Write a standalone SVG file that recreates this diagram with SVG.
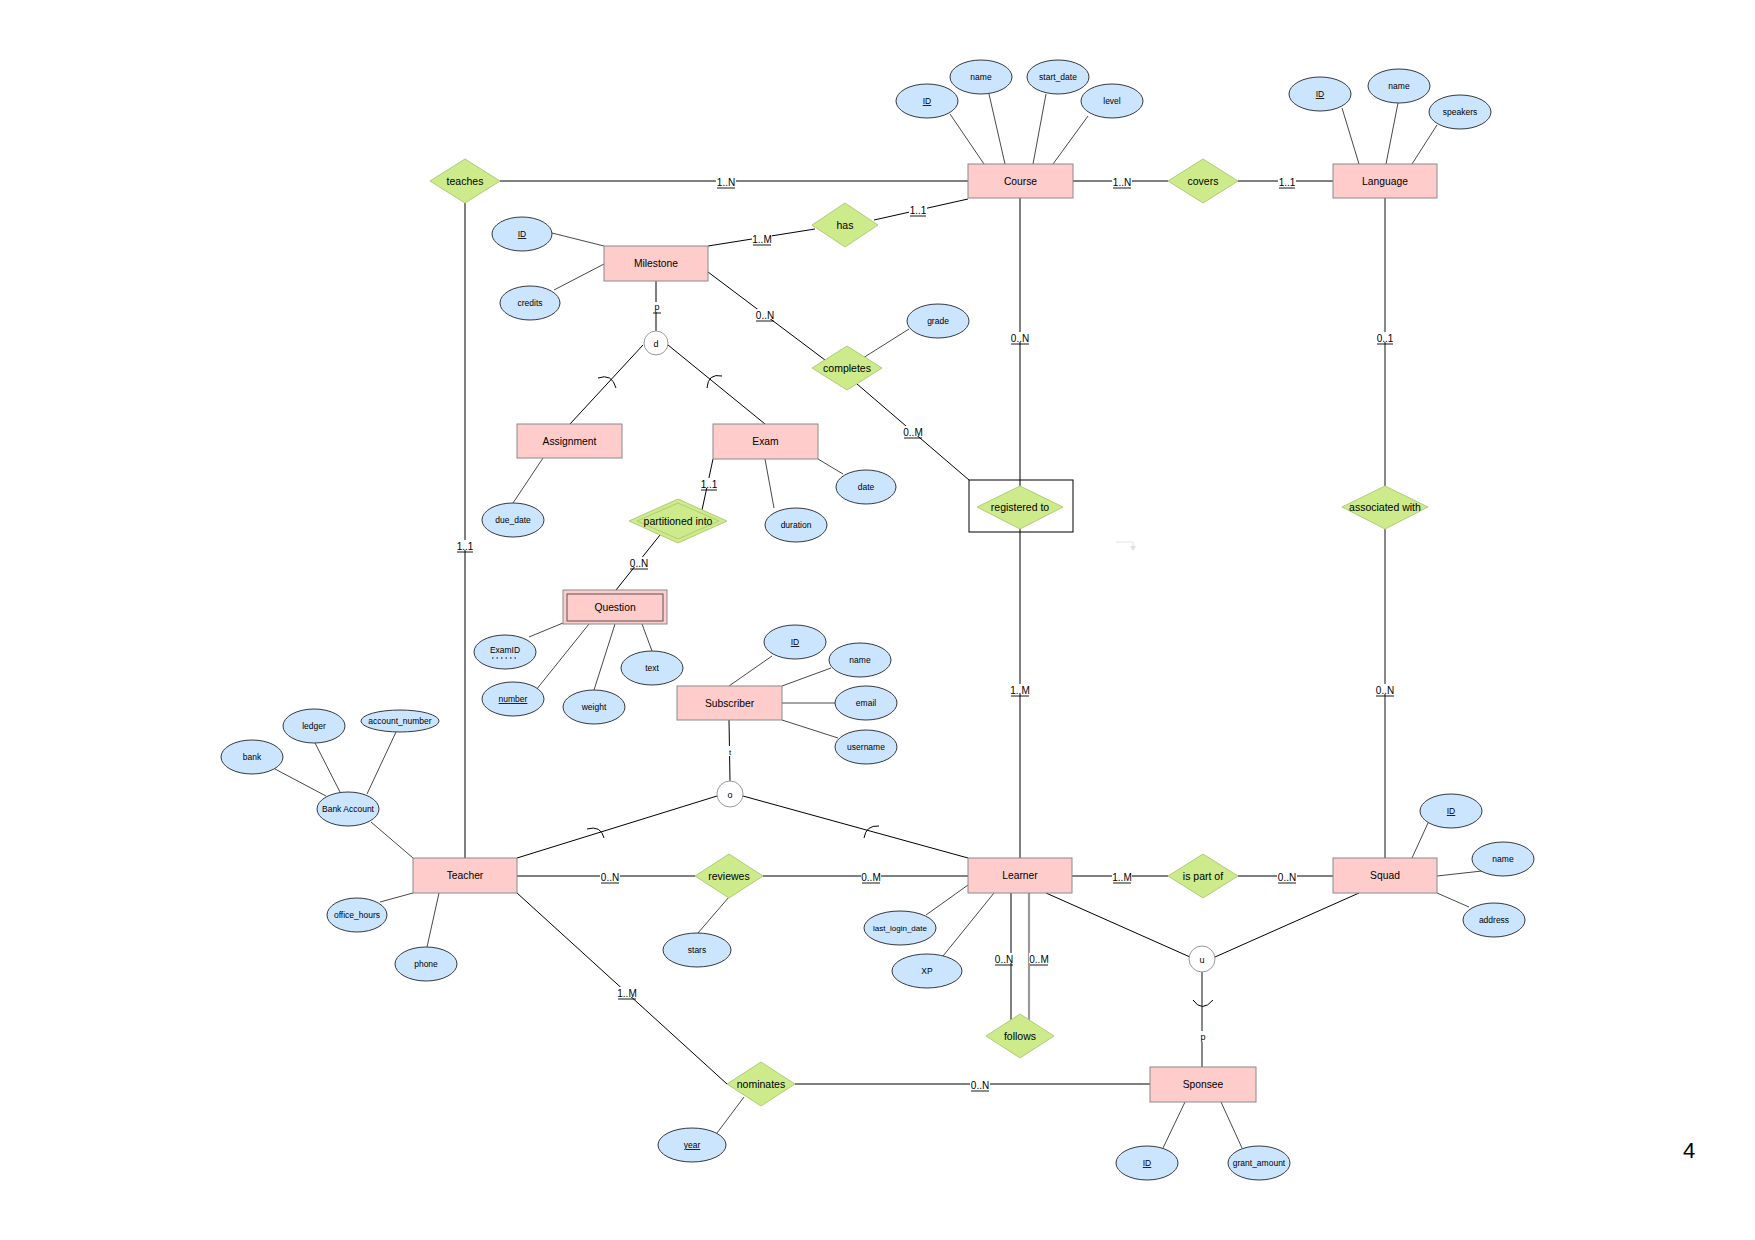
<svg xmlns="http://www.w3.org/2000/svg" width="1755" height="1240" viewBox="0 0 1755 1240">
<defs>
<style>
text{font-family:"Liberation Sans",Arial,Helvetica,sans-serif;fill:#000;text-anchor:middle}
.ent rect{fill:#FFCCCC;stroke:#8a8a8a;stroke-width:1}
.ent text{font-size:10.3px}
.attr ellipse{fill:#CCE5FF;stroke:#36393d;stroke-width:1}
.attr text{font-size:8.5px}
.rel polygon{fill:#CDEB8B;stroke:#b0cc78;stroke-width:1}
.rel text{font-size:10.5px}
.circ circle{fill:#fff;stroke:#999;stroke-width:1}
.circ text{font-size:9px}
#connectors line,#connectors path{stroke:#000;stroke-width:1;fill:none}
#connectors .a{stroke:#333;stroke-width:0.9}
#connectors .g{stroke:#555;stroke-width:1.4}
#connectors .gg{stroke:#9a9a9a;stroke-width:2.2}
.card rect{fill:#fff}
.card text{font-size:10px}
.card line{stroke:#000;stroke-width:0.9}
.u{text-decoration:underline}
</style>
</defs>
<rect width="1755" height="1240" fill="#fff"/>

<g id="connectors">
<!-- main -->
<line x1="500" y1="181" x2="968" y2="181"/>
<line x1="1073" y1="181" x2="1168" y2="181"/>
<line x1="1238" y1="181" x2="1333" y2="181"/>
<line x1="465" y1="203" x2="465" y2="858"/>
<line x1="1020" y1="198" x2="1020" y2="486"/>
<line x1="1020" y1="529" x2="1020" y2="858"/>
<line class="g" x1="1385" y1="198" x2="1385" y2="486"/>
<line class="g" x1="1385" y1="529" x2="1385" y2="858"/>
<line x1="708" y1="246" x2="815" y2="229"/>
<line x1="874" y1="220" x2="968" y2="199"/>
<line x1="708" y1="272" x2="825" y2="360"/>
<line x1="857" y1="384" x2="969" y2="480"/>
<line x1="656" y1="281" x2="656" y2="331"/>
<line x1="643" y1="345" x2="570" y2="424"/>
<line x1="668" y1="345" x2="765" y2="424"/>
<line x1="713" y1="459" x2="702" y2="510"/>
<line x1="660" y1="535" x2="616" y2="590"/>
<line x1="729" y1="720" x2="730" y2="781"/>
<line x1="717" y1="796" x2="517" y2="858"/>
<line x1="743" y1="796" x2="968" y2="858"/>
<line x1="517" y1="876" x2="695" y2="876"/>
<line x1="763" y1="876" x2="968" y2="876"/>
<line x1="1072" y1="876" x2="1168" y2="876"/>
<line x1="1238" y1="876" x2="1333" y2="876"/>
<line x1="1046" y1="893" x2="1190" y2="957"/>
<line x1="1359" y1="893" x2="1215" y2="957"/>
<line class="g" x1="1202" y1="972" x2="1202" y2="1067"/>
<line x1="517" y1="893" x2="727" y2="1084"/>
<line x1="795" y1="1084" x2="1150" y2="1084"/>
<line x1="1011" y1="893" x2="1011" y2="1020"/>
<line class="gg" x1="1029" y1="893" x2="1029" y2="1021"/>
<!-- subset arcs -->
<path d="M598,378 Q612,373 616,388"/>
<path d="M722,376 Q708,373 707,388"/>
<path d="M587,829 Q601,825 604,838"/>
<path d="M879,826 Q866,825 864,838"/>
<path d="M1193,1000 Q1202,1013 1213,1000"/>
<!-- attribute lines -->
<line class="a" x1="950" y1="114" x2="984" y2="164"/>
<line class="a" x1="989" y1="94" x2="1005" y2="164"/>
<line class="a" x1="1046" y1="94" x2="1033" y2="164"/>
<line class="a" x1="1088" y1="116" x2="1053" y2="164"/>
<line class="a" x1="1342" y1="108" x2="1359" y2="164"/>
<line class="a" x1="1398" y1="103" x2="1386" y2="164"/>
<line class="a" x1="1437" y1="125" x2="1412" y2="164"/>
<line class="a" x1="552" y1="233" x2="604" y2="246"/>
<line class="a" x1="554" y1="290" x2="604" y2="264"/>
<line class="a" x1="863" y1="358" x2="909" y2="329"/>
<line class="a" x1="543" y1="458" x2="513" y2="503"/>
<line class="a" x1="818" y1="459" x2="843" y2="474"/>
<line class="a" x1="765" y1="459" x2="774" y2="508"/>
<line class="a" x1="563" y1="623" x2="529" y2="637"/>
<line class="a" x1="589" y1="624" x2="536" y2="690"/>
<line class="a" x1="615" y1="624" x2="594" y2="690"/>
<line class="a" x1="642" y1="624" x2="652" y2="651"/>
<line class="a" x1="729" y1="686" x2="772" y2="656"/>
<line class="a" x1="782" y1="686" x2="831" y2="668"/>
<line class="a" x1="782" y1="703" x2="835" y2="703"/>
<line class="a" x1="782" y1="720" x2="838" y2="738"/>
<line class="a" x1="371" y1="822" x2="413" y2="858"/>
<line class="a" x1="275" y1="769" x2="326" y2="796"/>
<line class="a" x1="315" y1="743" x2="340" y2="792"/>
<line class="a" x1="396" y1="732" x2="367" y2="794"/>
<line class="a" x1="413" y1="893" x2="380" y2="902"/>
<line class="a" x1="439" y1="893" x2="427" y2="947"/>
<line class="a" x1="729" y1="897" x2="698" y2="933"/>
<line class="a" x1="968" y1="885" x2="926" y2="915"/>
<line class="a" x1="994" y1="893" x2="943" y2="956"/>
<line class="a" x1="744" y1="1097" x2="717" y2="1133"/>
<line class="a" x1="1428" y1="823" x2="1412" y2="858"/>
<line class="a" x1="1437" y1="876" x2="1482" y2="871"/>
<line class="a" x1="1437" y1="893" x2="1469" y2="907"/>
<line class="a" x1="1185" y1="1102" x2="1163" y2="1148"/>
<line class="a" x1="1221" y1="1102" x2="1242" y2="1148"/>
<!-- faint stray connector -->
<path d="M1116,542 H1133 V547" style="stroke:#e2e2e2;stroke-width:1"/>
<path d="M1130,546 L1133,551 L1136,546 Z" style="fill:#e2e2e2;stroke:none"/>
</g>

<!-- cardinality labels -->
<g id="labels" class="card">
<g><rect x="716" y="176" width="20" height="10"/><text x="726" y="185.5">1..N</text><line x1="717" y1="188" x2="735" y2="188"/></g>
<g><rect x="1112" y="176" width="20" height="10"/><text x="1122" y="185.5">1..N</text><line x1="1113" y1="188" x2="1131" y2="188"/></g>
<g><rect x="1278" y="176" width="18" height="10"/><text x="1287" y="185.5">1..1</text><line x1="1279" y1="188" x2="1295" y2="188"/></g>
<g><rect x="909" y="204" width="18" height="10"/><text x="918" y="213.5">1..1</text><line x1="910" y1="216" x2="926" y2="216"/></g>
<g><rect x="752" y="233" width="20" height="10"/><text x="762" y="242.5">1..M</text><line x1="753" y1="245" x2="771" y2="245"/></g>
<g><rect x="755" y="309" width="20" height="10"/><text x="765" y="318.5">0..N</text><line x1="756" y1="321" x2="774" y2="321"/></g>
<g><rect x="903" y="426" width="20" height="10"/><text x="913" y="435.5">0..M</text><line x1="904" y1="438" x2="922" y2="438"/></g>
<g><rect x="1010" y="332" width="20" height="10"/><text x="1020" y="341.5">0..N</text><line x1="1011" y1="344" x2="1029" y2="344"/></g>
<g><rect x="1376" y="332" width="18" height="10"/><text x="1385" y="341.5">0..1</text><line x1="1377" y1="344" x2="1393" y2="344"/></g>
<g><rect x="700" y="478" width="18" height="10"/><text x="709" y="487.5">1..1</text><line x1="701" y1="490" x2="717" y2="490"/></g>
<g><rect x="629" y="557" width="20" height="10"/><text x="639" y="566.5">0..N</text><line x1="630" y1="569" x2="648" y2="569"/></g>
<g><rect x="456" y="540" width="18" height="10"/><text x="465" y="549.5">1..1</text><line x1="457" y1="552" x2="473" y2="552"/></g>
<g><rect x="1010" y="684" width="20" height="10"/><text x="1020" y="693.5">1..M</text><line x1="1011" y1="696" x2="1029" y2="696"/></g>
<g><rect x="1375" y="684" width="20" height="10"/><text x="1385" y="693.5">0..N</text><line x1="1376" y1="696" x2="1394" y2="696"/></g>
<g><rect x="600" y="871" width="20" height="10"/><text x="610" y="880.5">0..N</text><line x1="601" y1="883" x2="619" y2="883"/></g>
<g><rect x="861" y="871" width="20" height="10"/><text x="871" y="880.5">0..M</text><line x1="862" y1="883" x2="880" y2="883"/></g>
<g><rect x="1112" y="871" width="20" height="10"/><text x="1122" y="880.5">1..M</text><line x1="1113" y1="883" x2="1131" y2="883"/></g>
<g><rect x="1277" y="871" width="20" height="10"/><text x="1287" y="880.5">0..N</text><line x1="1278" y1="883" x2="1296" y2="883"/></g>
<g><rect x="994" y="953" width="20" height="10"/><text x="1004" y="962.5">0..N</text><line x1="995" y1="965" x2="1013" y2="965"/></g>
<g><rect x="1029" y="953" width="20" height="10"/><text x="1039" y="962.5">0..M</text><line x1="1030" y1="965" x2="1048" y2="965"/></g>
<g><rect x="617" y="987" width="20" height="10"/><text x="627" y="996.5">1..M</text><line x1="618" y1="999" x2="636" y2="999"/></g>
<g><rect x="970" y="1079" width="20" height="10"/><text x="980" y="1088.5">0..N</text><line x1="971" y1="1091" x2="989" y2="1091"/></g>
<g><rect x="652" y="302" width="9" height="10"/><text x="657" y="310" style="font-size:9px">p</text><line x1="653" y1="313" x2="661" y2="313"/></g>
<g><rect x="726" y="746" width="8" height="10"/><text x="730" y="755" style="font-size:8px">t</text></g>
<g><rect x="1198" y="1031" width="10" height="11"/><text x="1203" y="1040" style="font-size:9px">p</text></g>
</g>

<!-- entities -->
<g id="course" class="ent"><rect x="968" y="164" width="105" height="34"/><text x="1020.5" y="184.5">Course</text></g>
<g id="language" class="ent"><rect x="1333" y="164" width="104" height="34"/><text x="1385" y="184.5">Language</text></g>
<g id="milestone" class="ent"><rect x="604" y="246" width="104" height="35"/><text x="656" y="267">Milestone</text></g>
<g id="assignment" class="ent"><rect x="517" y="424" width="105" height="34"/><text x="569.5" y="444.5">Assignment</text></g>
<g id="exam" class="ent"><rect x="713" y="424" width="105" height="35"/><text x="765.5" y="445">Exam</text></g>
<g id="question" class="ent"><rect x="563" y="590" width="104" height="34"/><rect x="567" y="594" width="96" height="27" style="fill:none;stroke:#555"/><text x="615" y="610.5">Question</text></g>
<g id="subscriber" class="ent"><rect x="677" y="686" width="105" height="34"/><text x="729.5" y="706.5">Subscriber</text></g>
<g id="teacher" class="ent"><rect x="413" y="858" width="104" height="35"/><text x="465" y="879">Teacher</text></g>
<g id="learner" class="ent"><rect x="968" y="858" width="104" height="35"/><text x="1020" y="879">Learner</text></g>
<g id="squad" class="ent"><rect x="1333" y="858" width="104" height="35"/><text x="1385" y="879">Squad</text></g>
<g id="sponsee" class="ent"><rect x="1150" y="1067" width="106" height="35"/><text x="1203" y="1088">Sponsee</text></g>

<!-- relationships -->
<g id="teaches" class="rel"><polygon points="430,181 465,159 500,181 465,203"/><text x="465" y="185">teaches</text></g>
<g id="has" class="rel"><polygon points="812,225 845,203 878,225 845,247"/><text x="845" y="229">has</text></g>
<g id="covers" class="rel"><polygon points="1168,181 1203,159 1238,181 1203,203"/><text x="1203" y="185">covers</text></g>
<g id="completes" class="rel"><polygon points="812,368 847,346 882,368 847,390"/><text x="847" y="372">completes</text></g>
<g id="partitioned" class="rel"><polygon points="629,521 678,499 727,521 678,543"/><polygon points="637,521 678,503 719,521 678,539" style="fill:none"/><text x="678" y="525">partitioned into</text></g>
<g id="registered" class="rel"><rect x="969" y="480" width="104" height="52" style="fill:none;stroke:#000;stroke-width:1"/><polygon points="977,507 1020,486 1063,507 1020,529"/><text x="1020" y="511">registered to</text></g>
<g id="associated" class="rel"><polygon points="1342,507 1385,486 1428,507 1385,529"/><text x="1385" y="511">associated with</text></g>
<g id="reviewes" class="rel"><polygon points="695,876 729,854 763,876 729,898"/><text x="729" y="880">reviewes</text></g>
<g id="ispartof" class="rel"><polygon points="1168,876 1203,854 1238,876 1203,898"/><text x="1203" y="880">is part of</text></g>
<g id="follows" class="rel"><polygon points="986,1036 1020,1014 1054,1036 1020,1058"/><text x="1020" y="1040">follows</text></g>
<g id="nominates" class="rel"><polygon points="727,1084 761,1062 795,1084 761,1106"/><text x="761" y="1088">nominates</text></g>

<!-- specialization circles -->
<g id="spec-d" class="circ"><circle cx="656" cy="343" r="12"/><text x="656" y="346.5">d</text></g>
<g id="spec-o" class="circ"><circle cx="730" cy="794" r="13"/><text x="730" y="797.5">o</text></g>
<g id="spec-u" class="circ"><circle cx="1202" cy="959" r="13"/><text x="1202" y="962.5">u</text></g>

<!-- attributes -->
<g id="course-id" class="attr"><ellipse cx="927" cy="101" rx="31" ry="17"/><text x="927" y="104" class="u">ID</text></g>
<g id="course-name" class="attr"><ellipse cx="981" cy="77" rx="31" ry="17"/><text x="981" y="80">name</text></g>
<g id="course-start" class="attr"><ellipse cx="1058" cy="77" rx="31" ry="17"/><text x="1058" y="80">start_date</text></g>
<g id="course-level" class="attr"><ellipse cx="1112" cy="101" rx="31" ry="17"/><text x="1112" y="104">level</text></g>
<g id="lang-id" class="attr"><ellipse cx="1320" cy="94" rx="31" ry="17"/><text x="1320" y="97" class="u">ID</text></g>
<g id="lang-name" class="attr"><ellipse cx="1399" cy="86" rx="31" ry="17"/><text x="1399" y="89">name</text></g>
<g id="lang-speakers" class="attr"><ellipse cx="1460" cy="112" rx="31" ry="17"/><text x="1460" y="115">speakers</text></g>
<g id="ms-id" class="attr"><ellipse cx="522" cy="234" rx="30" ry="17"/><text x="522" y="237" class="u">ID</text></g>
<g id="ms-credits" class="attr"><ellipse cx="530" cy="303" rx="30" ry="17"/><text x="530" y="306">credits</text></g>
<g id="grade" class="attr"><ellipse cx="938" cy="321" rx="31" ry="17"/><text x="938" y="324">grade</text></g>
<g id="due-date" class="attr"><ellipse cx="513" cy="520" rx="31" ry="17"/><text x="513" y="523">due_date</text></g>
<g id="exam-date" class="attr"><ellipse cx="866" cy="487" rx="30" ry="17"/><text x="866" y="490">date</text></g>
<g id="exam-duration" class="attr"><ellipse cx="796" cy="525" rx="31" ry="17"/><text x="796" y="528">duration</text></g>
<g id="q-examid" class="attr"><ellipse cx="505" cy="652" rx="31" ry="17"/><text x="505" y="653">ExamID</text><line x1="492" y1="658" x2="519" y2="658" style="stroke:#000;stroke-width:1.2;stroke-dasharray:1.5,3"/></g>
<g id="q-number" class="attr"><ellipse cx="513" cy="699" rx="31" ry="17"/><text x="513" y="702" class="u">number</text></g>
<g id="q-weight" class="attr"><ellipse cx="594" cy="707" rx="31" ry="17"/><text x="594" y="710">weight</text></g>
<g id="q-text" class="attr"><ellipse cx="652" cy="668" rx="31" ry="17"/><text x="652" y="671">text</text></g>
<g id="sub-id" class="attr"><ellipse cx="795" cy="642" rx="31" ry="17"/><text x="795" y="645" class="u">ID</text></g>
<g id="sub-name" class="attr"><ellipse cx="860" cy="660" rx="31" ry="17"/><text x="860" y="663">name</text></g>
<g id="sub-email" class="attr"><ellipse cx="866" cy="703" rx="31" ry="17"/><text x="866" y="706">email</text></g>
<g id="sub-username" class="attr"><ellipse cx="866" cy="747" rx="31" ry="17"/><text x="866" y="750">username</text></g>
<g id="ba-ledger" class="attr"><ellipse cx="314" cy="726" rx="31" ry="17"/><text x="314" y="729">ledger</text></g>
<g id="ba-account" class="attr"><ellipse cx="400" cy="721" rx="39" ry="11"/><text x="400" y="724">account_number</text></g>
<g id="ba-bank" class="attr"><ellipse cx="252" cy="757" rx="31" ry="17"/><text x="252" y="760">bank</text></g>
<g id="bank-account" class="attr"><ellipse cx="348" cy="809" rx="31" ry="17"/><text x="348" y="812">Bank Account</text></g>
<g id="t-office" class="attr"><ellipse cx="357" cy="915" rx="30" ry="17"/><text x="357" y="918">office_hours</text></g>
<g id="t-phone" class="attr"><ellipse cx="426" cy="964" rx="31" ry="17"/><text x="426" y="967">phone</text></g>
<g id="rev-stars" class="attr"><ellipse cx="697" cy="950" rx="34" ry="17"/><text x="697" y="953">stars</text></g>
<g id="l-lastlogin" class="attr"><ellipse cx="900" cy="928" rx="36" ry="17"/><text x="900" y="931" style="font-size:8px">last_login_date</text></g>
<g id="l-xp" class="attr"><ellipse cx="927" cy="971" rx="35" ry="17"/><text x="927" y="974">XP</text></g>
<g id="nom-year" class="attr"><ellipse cx="692" cy="1145" rx="34" ry="17"/><text x="692" y="1148" class="u">year</text></g>
<g id="sq-id" class="attr"><ellipse cx="1451" cy="811" rx="31" ry="17"/><text x="1451" y="814" class="u">ID</text></g>
<g id="sq-name" class="attr"><ellipse cx="1503" cy="859" rx="31" ry="17"/><text x="1503" y="862">name</text></g>
<g id="sq-address" class="attr"><ellipse cx="1494" cy="920" rx="31" ry="17"/><text x="1494" y="923">address</text></g>
<g id="sp-id" class="attr"><ellipse cx="1147" cy="1163" rx="31" ry="17"/><text x="1147" y="1166" class="u">ID</text></g>
<g id="sp-grant" class="attr"><ellipse cx="1259" cy="1163" rx="31" ry="17"/><text x="1259" y="1166">grant_amount</text></g>

<text x="1689" y="1158" style="font-family:'Liberation Sans',Arial,sans-serif;font-size:22px">4</text>
</svg>
